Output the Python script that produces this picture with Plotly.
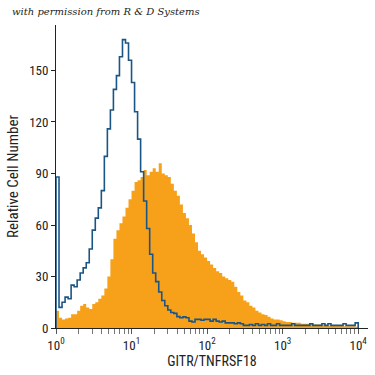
import plotly.graph_objects as go

# log10 bin edges: 100 bins of 0.04 decades from 10^0 to 10^4
bin_width_decades = 0.04
n_bins = 100

blue_counts = [88, 12, 15, 18, 17, 25, 24, 28, 32, 35,
               38, 46, 57, 64, 70, 80, 100, 116, 127, 139,
               147, 158, 168, 166, 156, 143, 126, 110, 91, 74,
               58, 43, 32, 27, 21, 16, 13, 10.5, 9, 8.5,
               6.6, 6, 6.5, 6, 4, 3.5, 5, 5, 4.5, 5,
               5, 4, 5, 4, 3.5, 4, 3, 3, 3, 2.5,
               3, 2.5, 1.5, 1.5, 2, 1.5, 2.5, 1.5, 2, 1.5,
               2.5, 1.5, 1.5, 2.5, 1.5, 1.5, 1.5, 1.5, 2.5, 1.5,
               1.5, 1.5, 1.5, 1.5, 2.5, 1.5, 1.5, 1.5, 2.5, 1.5,
               2.5, 1.5, 1.5, 1.5, 1.5, 2.5, 1.5, 1.5, 1.5, 3]

orange_counts = [10, 6, 5, 5.5, 6, 8, 8, 10, 13, 14,
                 12, 11, 14, 15, 17, 19, 23, 30, 40, 52,
                 57, 61, 65, 70, 75, 80, 85, 86, 88, 92,
                 89, 91, 93, 91, 96, 90, 89, 88, 84, 80,
                 77, 72, 67, 64, 60, 55, 50, 45, 43, 41,
                 39, 37, 35, 33, 32, 30, 29, 28, 27, 24,
                 21, 19, 16, 15, 13, 12, 10, 9, 8, 7.5,
                 6.5, 5.5, 5, 5, 4.5, 4, 3.5, 3.5, 3, 3,
                 3, 2.5, 2.5, 2.5, 2.5, 2, 2, 2, 1.8, 1.5,
                 1.5, 1.5, 1.5, 1.2, 1.2, 1, 1, 1, 1, 0.8]

decades = [1, 10, 100, 1000, 10000]
decade_labels = ["10<sup>0</sup>", "10<sup>1</sup>", "10<sup>2</sup>", "10<sup>3</sup>", "10<sup>4</sup>"]
y_ticks = [0, 30, 60, 90, 120, 150]

edges = [10 ** (i * bin_width_decades) for i in range(n_bins + 1)]


def step_xy(counts):
    xs = [edges[0]]
    ys = [0]
    for i, c in enumerate(counts):
        xs.append(edges[i])
        ys.append(c)
    xs.append(edges[-1])
    ys.append(counts[-1])
    xs.append(edges[-1])
    ys.append(0)
    return xs, ys


ox, oy = step_xy(orange_counts)
bx, by = step_xy(blue_counts)

fig = go.Figure()
fig.add_trace(go.Scatter(x=ox, y=oy, mode="lines", line=dict(shape="hv", width=0, color="#F7A11A"),
                         fill="tozeroy", fillcolor="#F7A11A", hoverinfo="skip"))
fig.add_trace(go.Scatter(x=bx, y=by, mode="lines", line=dict(shape="hv", width=1.6, color="#1B5585"),
                         hoverinfo="skip"))
# invisible trace to activate the minor-tick axis
fig.add_trace(go.Scatter(x=[decades[0]], y=[0], xaxis="x2", mode="markers",
                         marker=dict(opacity=0), hoverinfo="skip"))

minor_vals = [d * m for d in decades[:-1] for m in range(2, 10)]

font_family = "Liberation Sans Narrow, Roboto Condensed, Arial Narrow, Liberation Sans, sans-serif"

fig.update_layout(
    width=375, height=375,
    margin=dict(l=56, r=7, t=25, b=47, autoexpand=False),
    plot_bgcolor="white", paper_bgcolor="white",
    showlegend=False,
    font=dict(family=font_family, size=12, color="#222"),
    xaxis=dict(type="log", range=[0, 4.13], tickvals=decades, ticktext=decade_labels, automargin=False,
               ticks="outside", ticklen=5, tickcolor="#555", tickwidth=1,
               showline=True, linecolor="#222", linewidth=1, showgrid=False, zeroline=False,
               tickfont=dict(size=13, family=font_family),
               title=dict(text="GITR/TNFRSF18", font=dict(size=14, family=font_family, color="#222"), standoff=2)),
    xaxis2=dict(type="log", range=[0, 4.13], tickvals=minor_vals, showticklabels=False, automargin=False,
                overlaying="x", side="bottom", anchor="y",
                ticks="outside", ticklen=5, tickcolor="#777", tickwidth=1,
                showline=False, showgrid=False, zeroline=False),
    yaxis=dict(range=[0, 176.5], tickvals=y_ticks, ticks="outside", ticklen=4, tickcolor="#222", automargin=False,
               showline=True, linecolor="#222", linewidth=1, showgrid=False, zeroline=False,
               tickfont=dict(size=13, family=font_family),
               title=dict(text="Relative Cell Number", font=dict(size=15, family=font_family, color="#222"), standoff=6)),
    annotations=[dict(text="<i>with permission from R &amp; D Systems</i>", xref="paper", yref="paper",
                      x=-0.147, y=1.02, xanchor="left", yanchor="bottom", showarrow=False,
                      font=dict(family="DejaVu Serif, Liberation Serif, serif", size=10, color="#222"))],
)

fig.write_html("out.html", config={"displayModeBar": False},
               post_script="document.body.style.margin='0';document.body.style.overflow='hidden';")
